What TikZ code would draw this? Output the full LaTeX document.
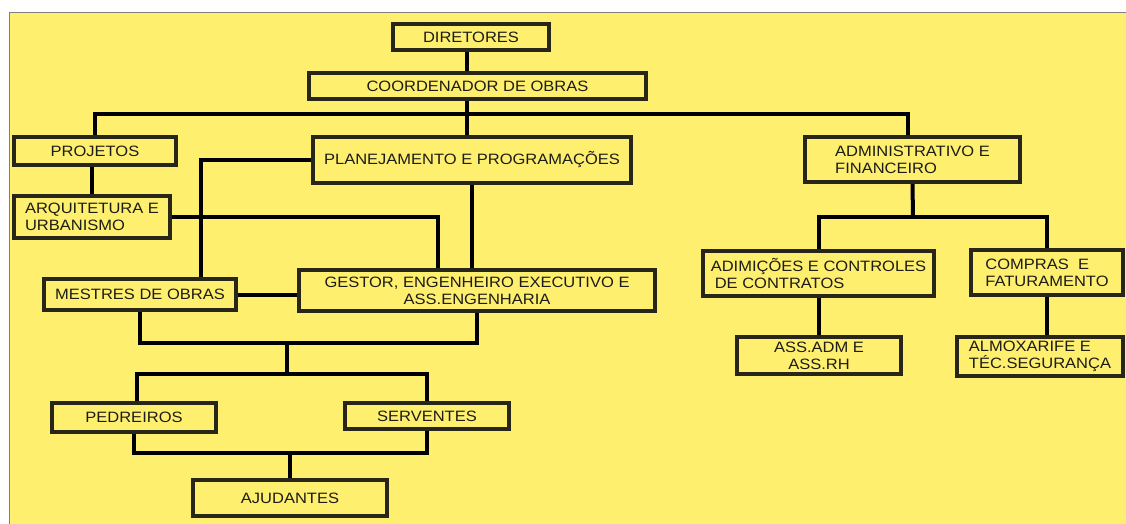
\documentclass[tikz,border=0pt]{standalone}
\usepackage{fontspec}
\setmainfont{Liberation Sans}[FakeStretch=1.1]
\usepackage{tikz}
\usetikzlibrary{positioning}
\definecolor{chartyellow}{RGB}{255,239,110}
\definecolor{boxline}{RGB}{40,38,25}
\definecolor{inkgray}{RGB}{28,28,24}
\newcommand{\orgfont}{\fontsize{15}{17}\selectfont}
\tikzset{
  orgbox/.style={draw=boxline, line width=4pt, inner sep=0pt,
                 text=inkgray, font=\orgfont},
  link/.style={line width=4pt, black},
}

\begin{document}
\begin{tikzpicture}[x=1pt, y=-1pt]
  \useasboundingbox (0,0) rectangle (1126,524);
  \fill[white] (0,0) rectangle (1126,524);
  \fill[chartyellow] (9,12) rectangle (1126,524);
  \draw[gray, line width=0.8pt] (9,524) -- (9,12) -- (1126,12);

  % Top
  \node[orgbox, minimum width=156pt, minimum height=26pt] (dir) at (471,37) {DIRETORES};
  \node[orgbox, minimum width=337pt, minimum height=26pt] (coord) at (477.5,86) {COORDENADOR DE OBRAS};
  \coordinate (trunk) at (467,114);
  \coordinate (busR) at (908,114);

  % Obras
  \node[orgbox, minimum width=162pt, minimum height=28pt] (proj) at (95,151) {PROJETOS};
  \node[orgbox, minimum width=156pt, minimum height=42pt, align=left] (arq) at (92,217)
    {ARQUITETURA E\\URBANISMO};
  \node[orgbox, minimum width=318pt, minimum height=46pt] (plan) at (472,160)
    {PLANEJAMENTO E PROGRAMAÇÕES};
  \node[orgbox, minimum width=192pt, minimum height=31pt] (mest) at (140,294.5) {MESTRES DE OBRAS};
  \node[orgbox, minimum width=356pt, minimum height=41pt, align=center] (gest) at (477,290.5)
    {GESTOR, ENGENHEIRO EXECUTIVO E\\ASS.ENGENHARIA};
  \node[orgbox, minimum width=164pt, minimum height=29pt] (pedr) at (134,417.5) {PEDREIROS};
  \node[orgbox, minimum width=164pt, minimum height=26pt] (serv) at (427,416) {SERVENTES};
  \node[orgbox, minimum width=194pt, minimum height=36pt] (ajud) at (290,498) {AJUDANTES};
  \coordinate (j1) at (287,343);
  \coordinate (j2) at (287,374);
  \coordinate (j3) at (290,453);

  % Administrativo
  \node[orgbox, minimum width=215pt, minimum height=45pt, align=left] (adm) at (912.5,159.5)
    {ADMINISTRATIVO E\\FINANCEIRO};
  \node[orgbox, minimum width=231pt, minimum height=45pt, align=left] (adim) at (818.5,273.5)
    {ADIMIÇÕES E CONTROLES\\\hspace{4pt}DE CONTRATOS};
  \node[orgbox, minimum width=152pt, minimum height=45pt, align=left] (comp) at (1047,272.5)
    {COMPRAS\ \ E\\FATURAMENTO};
  \node[orgbox, minimum width=164pt, minimum height=37pt, align=center] (assadm) at (819,355.5)
    {ASS.ADM E\\ASS.RH};
  \node[orgbox, minimum width=166pt, minimum height=39pt, align=left] (almox) at (1040,356.5)
    {ALMOXARIFE E\\TÉC.SEGURANÇA};
  \coordinate (j4) at (913,217);

  % Connectors
  \draw[link] (dir.south -| trunk) -- (coord.north -| trunk);
  \draw[link] (coord.south -| trunk) -- (plan.north -| trunk);
  \draw[link] (proj.north) |- (busR) -- (busR |- adm.north);
  \draw[link] (arq.north |- proj.south) -- (arq.north);
  \draw[link] (plan.west) -| ([xshift=61pt]mest.north);
  \draw[link] (arq.east) -| ([xshift=-39pt]gest.north);
  \draw[link] (plan.south) -- (plan.south |- gest.north);
  \draw[link] (mest.east) -- (mest.east -| gest.west);
  \draw[link] (mest.south) |- (j1) -| (gest.south);
  \draw[link] (j1) -- (j2);
  \draw[link] ([xshift=3pt]pedr.north) |- (j2) -| (serv.north);
  \draw[link] (pedr.south) |- (j3) -| (serv.south);
  \draw[link] (j3) -- (ajud.north);
  \draw[link] (adm.south) -- (j4);
  \draw[link] (adim.north) |- (j4) -| (comp.north);
  \draw[link] (adim.south) -- (adim.south |- assadm.north);
  \draw[link] (comp.south) -- (comp.south |- almox.north);
\end{tikzpicture}
\end{document}
